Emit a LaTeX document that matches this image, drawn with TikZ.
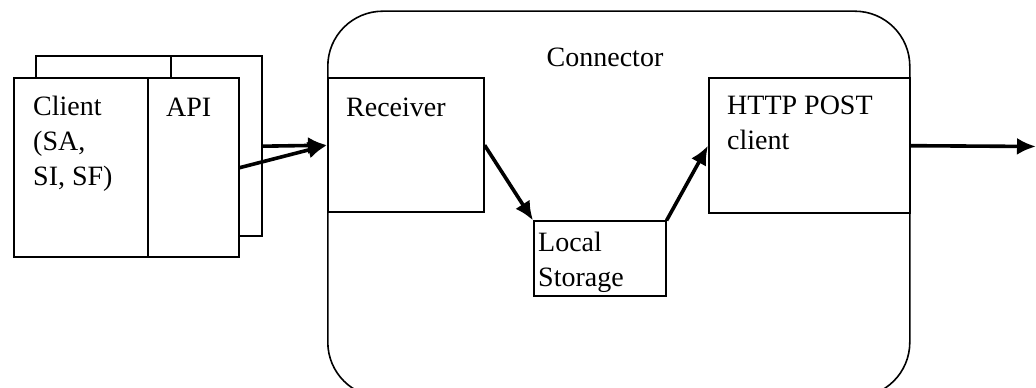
\documentclass[tikz,border=0pt]{standalone}
\usepackage{fontspec}
\setmainfont{Liberation Serif}
\usetikzlibrary{arrows.meta}

\begin{document}
\begin{tikzpicture}[x=1pt, y=1pt, font=\fontsize{28}{35}\selectfont,
	box/.style={draw, line width=1.6pt, inner sep=0pt, anchor=south west},
	txt/.style={inner sep=0pt, anchor=north west, align=left},
	flow/.style={-{Latex[length=19pt,width=17pt]}, line width=3.6pt}]
	
	\useasboundingbox (0,0) rectangle (1036,388);
	
	% Connector
	\node[box, rounded corners=55pt, minimum width=582pt, minimum height=386pt] (conn) at (327,-10) {};
	\node[anchor=base, inner sep=0pt] (conntitle) at (605,321) {Connector};
	
	\node[box, minimum width=156pt, minimum height=134pt] (recv) at (327,175) {};
	\node[box, minimum width=201pt, minimum height=135pt] (http) at (708,174) {};
	\node[box, minimum width=132pt, minimum height=75pt] (store) at (533,91) {};
	
	\node[anchor=base west, inner sep=0pt] (recvtext) at (346,271) {Receiver};
	\node[txt] (httptext) at (727,292) {HTTP POST\\client};
	\node[txt] (storetext) at (538,156) {Local\\Storage};
	
	% Client + API
	\node[box, minimum width=226pt, minimum height=180pt] (back) at (35,151) {};
	\draw[line width=1.6pt] (171,151) -- (171,331);
	\node[box, fill=white, minimum width=225pt, minimum height=179pt] (front) at (13,130) {};
	\draw[line width=1.6pt] (148,130) -- (148,309);
	
	\node[txt] (clienttext) at (33,292) {Client\\(SA,\\SI, SF)};
	\node[anchor=base west, inner sep=0pt] (apitext) at (166,271) {API};
	
	% arrows
	\coordinate (out) at (1036,241.5);
	\draw[flow] (back.east) -- (recv.west);
	\draw[flow] (front.east) -- (recv.west);
	\draw[flow] (recv.east) -- (store.north west);
	\draw[flow] (store.north east) -- (http.west);
	\draw[flow] (http.east) -- (out);
	
\end{tikzpicture}
\end{document}
